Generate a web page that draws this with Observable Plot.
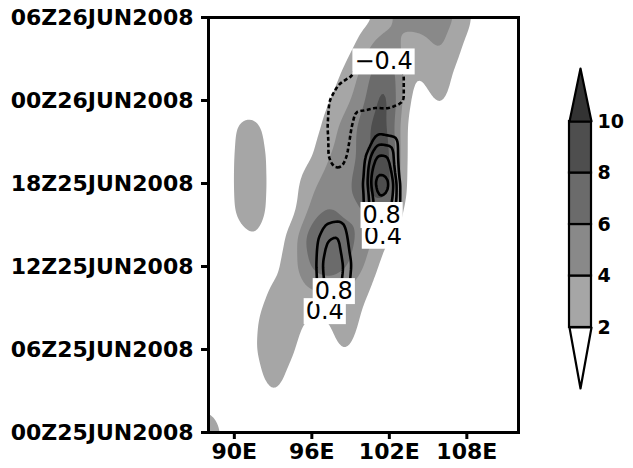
<!DOCTYPE html>
<html><head><meta charset="utf-8">
<script src="https://cdn.jsdelivr.net/npm/d3@7"></script>
<script src="https://cdn.jsdelivr.net/npm/@observablehq/plot@0.6"></script>
<style>
html,body{margin:0;padding:0;background:#fff;}
#wrap{position:relative;width:633px;height:468px;overflow:hidden;}
#wrap svg{position:absolute;overflow:visible;}
</style></head><body><div id="wrap"></div>
<script>
// Grid axes
const lons  = [88,89,90,91,92,93,94,95,96,97,98,99,100,101,102,103,104,105,106,107,108,109,110,111,112];
const times = [0,2,4,6,8,10,12,14,16,18,20,22,24,26,28,30];

// Shaded field, one row per time (hours after 00Z25JUN2008), columns = lons
const shadeT00 = [3.0,2.2,0.5,0,0,0,0,0,0,0,0,0,0,0,0,0,0,0,0,0,0,0,0,1.4,2.6];
const shadeT02 = [1.9,1.2,0.3,0.2,1.0,1.7,1.0,0.3,0,0,0.2,0.3,0,0,0,0,0,0,0,0,0,0,0,0.5,1.0];
const shadeT04 = [0.8,0.5,0.2,0.6,1.8,2.8,1.9,0.8,0.2,0.3,1.0,1.2,0.3,0,0,0,0,0,0,0,0,0,0,0,0.2];
const shadeT06 = [0.3,0.5,0.9,1.2,2.3,3.3,2.9,1.6,0.8,1.0,2.0,2.1,1.0,0.3,0,0,0,0,0,0,0,0,0,0,0];
const shadeT08 = [0.2,0.4,0.7,1.2,2.1,3.2,3.4,2.3,1.5,1.4,2.9,2.9,1.5,0.6,0.2,0,0,0,0,0,0,0,0,0,0];
const shadeT10 = [0.1,0.2,0.4,0.8,1.5,2.4,3.0,3.5,3.6,3.8,3.8,3.3,2.4,1.2,0.5,0.2,0,0,0,0,0,0,0,0,0];
const shadeT12 = [0,0.1,0.4,0.8,1.0,1.4,2.4,4.2,6.5,7.5,6.8,6.0,4.1,2.0,0.9,0.3,0,0,0,0,0,0,0,0,0];
const shadeT14 = [0,0.2,1.0,1.8,1.8,1.0,1.8,4.2,8.3,8.4,7.2,6.6,5.2,3.4,1.8,0.7,0.2,0,0,0,0,0,0,0,0];
const shadeT16 = [0,0.5,2.1,3.0,2.8,1.0,1.0,2.0,5.0,6.3,5.8,5.3,5.8,7.4,6.0,1.2,0.6,0.2,0,0,0,0,0,0,0];
const shadeT18 = [0,0.5,2.2,3.2,3.0,1.0,1.0,1.8,3.5,4.6,5.2,5.8,7.2,10.4,9.8,2.0,0.6,0.2,0,0,0,0,0,0,0];
const shadeT20 = [0,0.3,2.2,3.2,3.0,0.9,0.5,0.9,1.6,3.6,4.7,5.3,6.6,9.6,9.4,2.3,0.6,0.2,0,0,0,0,0,0,0];
const shadeT22 = [0,0.3,2.1,2.7,2.4,0.8,0.3,0.4,1.0,2.4,4.2,5.0,7.0,9.2,8.6,2.4,0.6,0.4,1.4,0.6,0,0,0,0,0];
const shadeT24 = [0,0,0.8,1.0,0.9,0.3,0,0.1,0.4,1.4,2.8,3.9,5.4,8.4,9.0,3.6,0.8,1.6,2.5,1.2,0.3,0,0,0,0];
const shadeT26 = [0,0,0,0,0,0,0,0,0.2,0.6,1.6,3.0,4.5,7.2,8.2,4.0,1.6,2.7,3.3,1.8,0.5,0,0,0,0];
const shadeT28 = [0,0,0,0,0,0,0,0,0,0.3,0.8,1.5,2.8,4.8,5.4,3.6,3.2,3.6,4.6,3.0,1.4,0.4,0,0,0];
const shadeT30 = [0,0,0,0,0,0,0,0,0,0,0.3,0.6,1.0,2.0,4.0,4.6,4.8,4.7,4.9,4.3,2.6,1.0,0.3,0,0];
const shadeRows = [shadeT00,shadeT02,shadeT04,shadeT06,shadeT08,shadeT10,shadeT12,shadeT14,
                   shadeT16,shadeT18,shadeT20,shadeT22,shadeT24,shadeT26,shadeT28,shadeT30];

// Contoured (line) field, same grid
const lineT00 = [0,0,0,0,0,0,0,0,0,0,0,0,0,0,0,0,0,0,0,0,0,0,0,0,0];
const lineT02 = [0,0,0,0,0,0,0,0,0,0,0,0,0,0,0,0,0,0,0,0,0,0,0,0,0];
const lineT04 = [0,0,0,0,0,0,0,0,0,0,0,0,0,0,0,0,0,0,0,0,0,0,0,0,0];
const lineT06 = [0,0,0,0,0,0,0,0,0,0,0,0,0,0,0,0,0,0,0,0,0,0,0,0,0];
const lineT08 = [0,0,0,0,0,0,0,0,0,0.1,0.1,0,0,0,0,0,0,0,0,0,0,0,0,0,0];
const lineT10 = [0,0,0,0,0,0,0,0,0.1,0.85,0.9,0.3,0,0,0,0,0,0,0,0,0,0,0,0,0];
const lineT12 = [0,0,0,0,0,0,0,0,0.1,0.95,1.1,0.4,0,0,0,0,0,0,0,0,0,0,0,0,0];
const lineT14 = [0,0,0,0,0,0,0,0,0.05,0.75,0.88,0.25,0.1,0.5,0.48,0,0,0,0,0,0,0,0,0,0];
const lineT16 = [0,0,0,0,0,0,0,0,0,0.1,0.15,0,0.3,1.4,1.35,0.1,0,0,0,0,0,0,0,0,0];
const lineT18 = [0,0,0,0,0,0,0,0,0,0,-0.1,0,0.35,1.8,1.7,0.1,0,0,0,0,0,0,0,0,0];
const lineT20 = [0,0,0,0,0,0,0,0,0,-0.3,-0.65,-0.3,0.2,1.25,1.2,0,0,0,0,0,0,0,0,0,0];
const lineT22 = [0,0,0,0,0,0,0,0,0,-0.3,-0.75,-0.45,0.1,0.2,0.1,0,0,0,0,0,0,0,0,0,0];
const lineT24 = [0,0,0,0,0,0,0,0,0,-0.25,-0.65,-0.7,-0.7,-0.6,-0.6,-0.45,-0.1,0,0,0,0,0,0,0,0];
const lineT26 = [0,0,0,0,0,0,0,0,0,0,-0.2,-0.35,-0.6,-0.6,-0.6,-0.45,-0.1,0,0,0,0,0,0,0,0];
const lineT28 = [0,0,0,0,0,0,0,0,0,0,0,0,-0.2,-0.2,-0.2,0,0,0,0,0,0,0,0,0,0];
const lineT30 = [0,0,0,0,0,0,0,0,0,0,0,0,0,0,0,0,0,0,0.5,0,0,0,0,0,0];
const lineRows = [lineT00,lineT02,lineT04,lineT06,lineT08,lineT10,lineT12,lineT14,
                  lineT16,lineT18,lineT20,lineT22,lineT24,lineT26,lineT28,lineT30];

// Levels and colours
const fillLevels = [2,4,6,8,10];
const fillColors = ["#a6a6a6","#898989","#6b6b6b","#4e4e4e","#333333"];
const lineLevelsPos = [0.4,0.8,1.2,1.6];
const lineLevelsNeg = [-0.4];

// Axes
const lonTicks = [90,96,102,108];
const lonLabels = ["90E","96E","102E","108E"];
const timeTicks = [0,6,12,18,24,30];
const timeLabels = ["00Z25JUN2008","06Z25JUN2008","12Z25JUN2008","18Z25JUN2008","00Z26JUN2008","06Z26JUN2008"];

// Contour labels
const labelText = ["0.4","0.8","0.4","0.8","\u22120.4"];
const labelLon  = [97.0, 97.7, 101.5, 101.4, 101.55];
const labelTime = [8.75, 10.2, 14.2, 15.7, 26.8];

const grid = [];
times.forEach((t, r) => lons.forEach((lon, c) => grid.push({lon, t, s: shadeRows[r][c], w: lineRows[r][c]})));
const labels = labelText.map((text, i) => ({text, lon: labelLon[i], t: labelTime[i]}));

const wrap = document.getElementById("wrap");

const main = Plot.plot({
  width: 633, height: 468,
  marginLeft: 208, marginRight: 115, marginTop: 17, marginBottom: 36,
  x: {domain: [88, 112], label: null},
  y: {domain: [0, 30], label: null},
  color: {type: "ordinal", domain: fillLevels, range: fillColors},
  style: {fontFamily: "DejaVu Sans", fontSize: "22px", fontWeight: "bold", background: "white", color: "black"},
  marks: [
    Plot.contour(grid, {x: "lon", y: "t", fill: "s", thresholds: fillLevels, interpolate: "barycentric", blur: 3, stroke: "none"}),
    Plot.contour(grid, {x: "lon", y: "t", value: "w", thresholds: lineLevelsPos, interpolate: "barycentric", blur: 1,
      stroke: "black", strokeWidth: 2.6, fill: "none"}),
    Plot.contour(grid, {x: "lon", y: "t", value: "w", thresholds: lineLevelsNeg, interpolate: "barycentric", blur: 1,
      stroke: "black", strokeWidth: 2.6, strokeDasharray: "4,2.5", fill: "none"}),
    Plot.text(labels, {x: "lon", y: "t", text: "text", fontSize: 24, fontWeight: "normal", fill: "black", className: "clabel"}),
    Plot.frame({stroke: "black", strokeWidth: 3}),
    Plot.axisX({ticks: lonTicks, tickFormat: d => lonLabels[lonTicks.indexOf(d)], tickSize: 7, tickPadding: 4, strokeWidth: 3, label: null}),
    Plot.axisY({ticks: timeTicks, tickFormat: d => timeLabels[timeTicks.indexOf(d)], tickSize: 7, tickPadding: 8, strokeWidth: 3, label: null})
  ]
});
main.style.left = "0px"; main.style.top = "0px";
wrap.appendChild(main);

// white boxes behind contour labels
main.querySelectorAll(".clabel text").forEach(t => {
  const bb = t.getBBox();
  const r = document.createElementNS("http://www.w3.org/2000/svg", "rect");
  r.setAttribute("x", bb.x - 2); r.setAttribute("y", bb.y + 1);
  r.setAttribute("width", bb.width + 4); r.setAttribute("height", bb.height - 2);
  r.setAttribute("fill", "white");
  if (t.getAttribute("transform")) r.setAttribute("transform", t.getAttribute("transform"));
  t.parentNode.insertBefore(r, t);
});

// Colorbar
const barBoxes = fillLevels.slice(0, 4).map((lo, i) => ({lo, hi: fillLevels[i + 1], c: fillColors[i]}));
const topTri = [{x: 0, y: 10}, {x: 0.5, y: 12.06}, {x: 1, y: 10}, {x: 0, y: 10}];
const botTri = [{x: 0, y: 2}, {x: 0.5, y: -0.37}, {x: 1, y: 2}, {x: 0, y: 2}];
const bar = Plot.plot({
  width: 70, height: 340,
  marginLeft: 9, marginRight: 39, marginTop: 8, marginBottom: 12,
  x: {domain: [0, 1], axis: null},
  y: {domain: [-0.37, 12.06], axis: null},
  style: {fontFamily: "DejaVu Sans", fontWeight: "bold", background: "transparent"},
  marks: [
    Plot.rect(barBoxes, {x1: 0, x2: 1, y1: "lo", y2: "hi", fill: "c", stroke: "black", strokeWidth: 2.2}),
    Plot.line(topTri, {x: "x", y: "y", fill: fillColors[4], stroke: "black", strokeWidth: 2.2}),
    Plot.line(botTri, {x: "x", y: "y", fill: "white", stroke: "black", strokeWidth: 2.2}),
    Plot.text(fillLevels, {x: 1, y: d => d, text: d => String(d), dx: 6, textAnchor: "start", fontSize: 19, fontWeight: "bold", fill: "black"})
  ]
});
bar.style.left = "560px"; bar.style.top = "60px";
wrap.appendChild(bar);
</script></body></html>
